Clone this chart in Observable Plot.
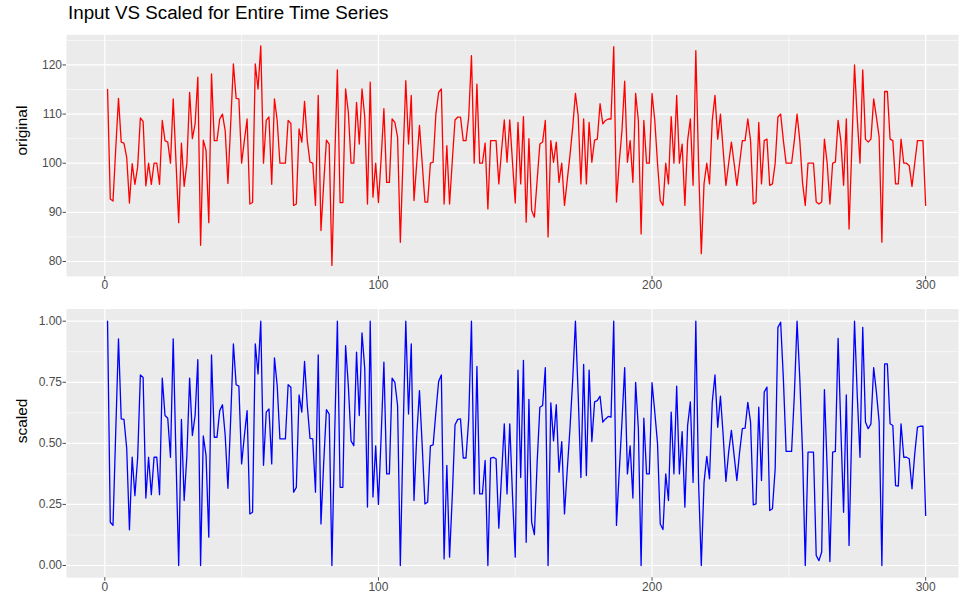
<!DOCTYPE html>
<html>
<head>
<meta charset="utf-8">
<script src="https://cdn.jsdelivr.net/npm/d3@7"></script>
<script src="https://cdn.jsdelivr.net/npm/@observablehq/plot@0.6"></script>
<style>
  body { margin: 0; background: #fff; font-family: "Liberation Sans", Arial, sans-serif; }
  #title { position: absolute; left: 68px; top: 2px; font-size: 18.8px; color: #000; white-space: nowrap; }
  #top { position: absolute; left: 0; top: 30px; }
  #bottom { position: absolute; left: 0; top: 300px; }
</style>
</head>
<body>
<div id="title">Input VS Scaled for Entire Time Series</div>
<div id="top"></div>
<div id="bottom"></div>
<script>
// Series values, time steps 1..300
const original = [
  115, 92.7, 92.3, 103, 113.2, 104.3, 104.1, 101.2, 91.9, 99.9,
  95.7, 99.2, 109.2, 108.5, 95.4, 100, 95.7, 100, 100, 95.7,
  108.7, 104.6, 104.3, 100, 113.1, 100.5, 87.9, 104.1, 95.3, 100,
  114.4, 105, 108, 117.5, 83.3, 104.7, 102.6, 87.9, 118.2, 104.6,
  104.6, 109, 110, 106.6, 95.9, 108, 120.2, 113.2, 113.1, 100,
  104.6, 109, 91.7, 92, 120.2, 115.1, 123.9, 100, 108.7, 109.4,
  95.7, 113.1, 108.7, 100, 100, 100, 108.7, 108.1, 91.4, 91.7,
  107, 104.3, 112.6, 104.6, 100.2, 100, 91.4, 113.8, 86.3, 95.8,
  104.7, 103.9, 79.2, 100, 119, 92, 92, 115.1, 110.4, 100,
  100, 112.4, 103.9, 115.1, 109.4, 91.7, 116.5, 93.1, 100, 92,
  101, 111.1, 96.1, 96.1, 109, 108.3, 105.3, 83.9, 101, 116.8,
  103.9, 113.8, 92.4, 100, 107.7, 100, 92.1, 92.1, 100, 100.2,
  110, 114.4, 115.1, 91.7, 103.6, 91.7, 100.5, 108.8, 109.4, 109.4,
  104.6, 104.6, 109.4, 121.9, 100, 116.1, 100, 100, 104.1, 90.7,
  104.6, 104.6, 104.6, 95.8, 102.6, 108.8, 100.2, 108.8, 100.2, 91.9,
  108.3, 95.8, 109.5, 88, 105, 90.4, 89, 96.5, 103.9, 104.3,
  108.7, 85, 104.6, 100.2, 104.3, 96.1, 100, 91.4, 96.5, 101.6,
  107.3, 114.2, 109.7, 95.8, 109, 95.8, 108.3, 100.2, 104.7, 104.9,
  112.1, 108, 108.7, 109, 109, 123.7, 92.1, 100.2, 106.6, 116.7,
  100.2, 104.6, 96.1, 114.2, 108.7, 85.6, 108.7, 100, 100, 114.2,
  108.7, 100, 92.4, 91.4, 100, 95.8, 109.5, 100, 113.8, 100,
  103.9, 91.4, 104.6, 109, 95.5, 122.9, 100, 81.6, 95.8, 100,
  95.8, 108.7, 113.8, 104.9, 110, 102.6, 95.5, 100, 104.3, 100,
  95.5, 100, 104.6, 104.6, 109, 104.6, 91.7, 92.1, 108.3, 95.8,
  104.6, 104.9, 95.5, 95.8, 100, 109.4, 110, 104.6, 100, 100,
  100, 104.6, 110, 104.6, 96, 91.4, 100, 100, 100, 92.1,
  91.7, 92.1, 104.9, 100, 91.7, 100, 100.2, 108.7, 104.6, 95.5,
  109, 86.6, 103, 120, 109, 100, 119, 104.9, 104.3, 104.9,
  113.1, 109.4, 105.3, 83.9, 114.6, 114.6, 104.9, 104.6, 95.8, 95.8,
  104.9, 100, 100, 99.5, 95.3, 100, 104.6, 104.6, 104.6, 91.4
];

const scaled = [
  1.0, 0.177, 0.164, 0.55, 0.928, 0.6, 0.598, 0.48, 0.146, 0.443,
  0.286, 0.44, 0.78, 0.77, 0.276, 0.443, 0.29, 0.443, 0.443, 0.29,
  0.767, 0.614, 0.603, 0.443, 0.928, 0.45, 0.0, 0.598, 0.266, 0.45,
  0.767, 0.532, 0.614, 0.843, 0.0, 0.53, 0.45, 0.116, 0.862, 0.525,
  0.525, 0.634, 0.658, 0.532, 0.316, 0.6, 0.907, 0.74, 0.734, 0.416,
  0.53, 0.634, 0.211, 0.218, 0.907, 0.784, 1.0, 0.41, 0.628, 0.641,
  0.416, 0.85, 0.737, 0.518, 0.518, 0.518, 0.74, 0.73, 0.3, 0.32,
  0.698, 0.628, 0.835, 0.655, 0.52, 0.518, 0.3, 0.862, 0.17, 0.42,
  0.638, 0.62, 0.0, 0.53, 1.0, 0.32, 0.32, 0.9, 0.737, 0.51,
  0.49, 0.873, 0.614, 0.952, 0.805, 0.239, 1.0, 0.28, 0.49, 0.25,
  0.53, 0.832, 0.375, 0.375, 0.767, 0.75, 0.655, 0.0, 0.53, 1.0,
  0.62, 0.907, 0.266, 0.53, 0.716, 0.49, 0.252, 0.26, 0.49, 0.494,
  0.628, 0.753, 0.78, 0.027, 0.41, 0.034, 0.286, 0.576, 0.598, 0.6,
  0.44, 0.44, 0.6, 1.0, 0.293, 0.815, 0.293, 0.293, 0.43, 0.0,
  0.44, 0.443, 0.437, 0.153, 0.368, 0.58, 0.293, 0.58, 0.286, 0.034,
  0.8, 0.36, 0.84, 0.095, 0.68, 0.177, 0.126, 0.42, 0.648, 0.655,
  0.81, 0.0, 0.666, 0.51, 0.658, 0.382, 0.507, 0.211, 0.39, 0.56,
  0.76, 1.0, 0.7, 0.36, 0.823, 0.368, 0.8, 0.507, 0.67, 0.675,
  0.693, 0.587, 0.6, 0.61, 0.607, 1.0, 0.164, 0.382, 0.587, 0.81,
  0.375, 0.49, 0.276, 0.75, 0.56, 0.0, 0.603, 0.375, 0.375, 0.748,
  0.628, 0.5, 0.17, 0.147, 0.375, 0.266, 0.628, 0.375, 0.734, 0.375,
  0.548, 0.239, 0.573, 0.67, 0.34, 1.0, 0.34, 0.0, 0.34, 0.447,
  0.355, 0.668, 0.78, 0.566, 0.693, 0.532, 0.344, 0.464, 0.553, 0.45,
  0.348, 0.464, 0.56, 0.562, 0.668, 0.587, 0.248, 0.252, 0.648, 0.348,
  0.71, 0.73, 0.225, 0.232, 0.396, 0.975, 0.996, 0.764, 0.467, 0.467,
  0.467, 0.696, 1.0, 0.764, 0.464, 0.0, 0.464, 0.464, 0.464, 0.041,
  0.02, 0.055, 0.72, 0.396, 0.016, 0.464, 0.467, 0.93, 0.56, 0.218,
  0.698, 0.082, 0.56, 1.0, 0.696, 0.443, 0.975, 0.587, 0.56, 0.58,
  0.81, 0.71, 0.587, 0.0, 0.825, 0.825, 0.58, 0.573, 0.327, 0.325,
  0.58, 0.443, 0.443, 0.437, 0.314, 0.457, 0.566, 0.57, 0.57, 0.205
];

// Tick positions and labels
const xMajor = [0, 100, 200, 300];
const xMinor = [50, 150, 250];
const originalMajor = [80, 90, 100, 110, 120];
const originalMinor = [85, 95, 105, 115, 125];
const scaledMajor = [0, 0.25, 0.5, 0.75, 1];
const scaledMinor = [0.125, 0.375, 0.625, 0.875];
const scaledTickLabels = ["0.00", "0.25", "0.50", "0.75", "1.00"];

function panel({values, color, yMajor, yMinor, yFormat, label, height, marginTop, marginBottom}) {
  const rows = values.map((v, i) => ({t: i + 1, v}));
  const [lo, hi] = d3.extent(values);
  const pad = (hi - lo) * 0.05;
  return Plot.plot({
    width: 963,
    height,
    marginLeft: 66,
    marginRight: 5,
    marginTop,
    marginBottom,
    style: {fontFamily: "Liberation Sans, Arial, sans-serif", fontSize: "12px", background: "transparent"},
    x: {domain: [-14, 312]},
    y: {domain: [lo - pad, hi + pad]},
    marks: [
      Plot.frame({fill: "#EBEBEB", stroke: "none"}),
      Plot.gridX(xMinor, {stroke: "#fff", strokeOpacity: 1, strokeWidth: 0.6}),
      Plot.gridY(yMinor, {stroke: "#fff", strokeOpacity: 1, strokeWidth: 0.6}),
      Plot.gridX(xMajor, {stroke: "#fff", strokeOpacity: 1, strokeWidth: 1.2}),
      Plot.gridY(yMajor, {stroke: "#fff", strokeOpacity: 1, strokeWidth: 1.2}),
      Plot.line(rows, {x: "t", y: "v", stroke: color, strokeWidth: 1.3}),
      Plot.axisX(xMajor, {tickSize: 3.5, tickPadding: 1, color: "#4D4D4D", label: null}),
      Plot.axisY(yMajor, {tickSize: 3.5, tickPadding: 1, color: "#4D4D4D", tickFormat: yFormat, label: null}),
      Plot.text([label], {frameAnchor: "left", rotate: -90, dx: -44, fontSize: 15.5, fill: "#000", text: d => d})
    ]
  });
}

document.getElementById("top").append(panel({
  values: original, color: "#FF0000",
  yMajor: originalMajor, yMinor: originalMinor, yFormat: d => String(d),
  label: "original", height: 270, marginTop: 4.3, marginBottom: 24.1
}));

document.getElementById("bottom").append(panel({
  values: scaled, color: "#0000FF",
  yMajor: scaledMajor, yMinor: scaledMinor, yFormat: (d, i) => scaledTickLabels[i],
  label: "scaled", height: 296, marginTop: 8.5, marginBottom: 18.8
}));
</script>
</body>
</html>
